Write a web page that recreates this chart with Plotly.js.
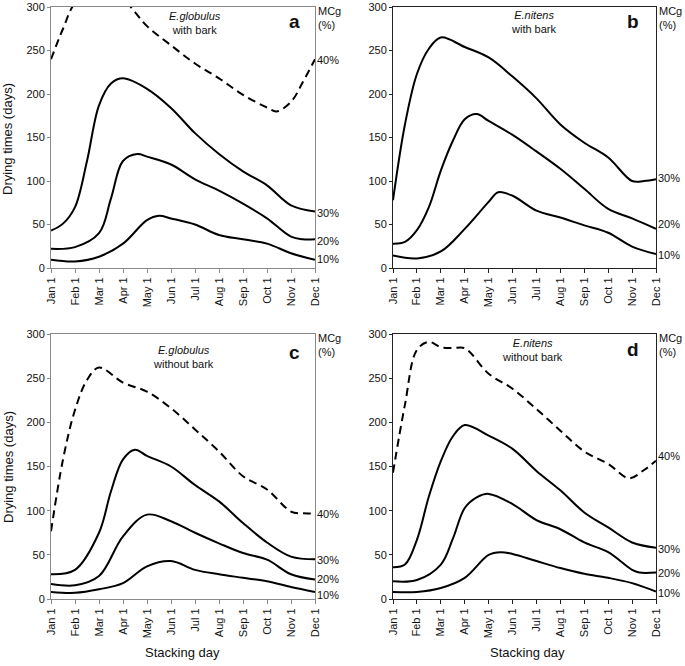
<!DOCTYPE html>
<html>
<head>
<meta charset="utf-8">
<script src="https://cdn.plot.ly/plotly-3.0.1.min.js"></script>
<style>
  html, body { margin: 0; padding: 0; background: #fff; overflow: hidden; }
  #wrap { width: 685px; height: 666px; overflow: hidden; position: relative; }
  #chart { width: 685px; height: 676px; position: absolute; left: 0; top: -10px; }
</style>
</head>
<body>
<div id="wrap"><div id="chart"></div></div>
<script>
// ---- tick labels / categories ----
const MONTH_POS = [0, 1, 2, 3, 4, 5, 6, 7, 8, 9, 10, 11];
const MONTH_LABELS = ['Jan 1', 'Feb 1', 'Mar 1', 'Apr 1', 'May 1', 'Jun 1', 'Jul 1', 'Aug 1', 'Sep 1', 'Oct 1', 'Nov 1', 'Dec 1'];
const Y_TICKS = [0, 50, 100, 150, 200, 250, 300];
const MC_LABELS = ['40%', '30%', '20%', '10%'];

// ---- panel a: E.globulus with bark ----
const a10_x = [0, 1, 2, 3, 4, 4.5, 5, 6, 7, 8, 9, 10, 11];
const a10_y = [9.5, 7.6, 13, 28, 55, 60, 57, 50, 38, 33, 28, 17, 9.5];
const a20_x = [0, 1, 2, 2.5, 3, 3.6, 4, 5, 6, 7, 8, 9, 10, 10.5, 11];
const a20_y = [22, 24, 40, 80, 123, 131, 128, 119, 102, 89, 74, 57, 36, 33, 33];
const a30_x = [0, 0.5, 1, 1.5, 2, 2.5, 3, 4, 5, 6, 7, 8, 9, 10, 11];
const a30_y = [43, 51, 70, 123, 187, 212, 218, 206, 184, 155, 131, 111, 95, 72, 65];
const a40_x = [0, 0.5, 1, 2, 3, 3.5, 4, 5, 6, 7, 8, 9, 9.4, 10, 10.5, 11];
const a40_y = [240, 275, 305, 330, 310, 294, 278, 256, 235, 218, 199, 184.5, 180, 191, 214, 240];
const a_label_y = [239, 63, 31, 10];

// ---- panel b: E.nitens with bark ----
const b10_x = [0, 1, 2, 3, 4, 4.4, 5, 6, 7, 8, 9, 10, 11];
const b10_y = [14.4, 11, 19, 45, 76, 87, 83, 66, 58, 49, 40.5, 24.6, 16];
const b20_x = [0, 0.5, 1, 1.5, 2, 2.5, 3, 3.5, 4, 5, 6, 7, 8, 9, 10, 11];
const b20_y = [28, 30, 43.5, 70, 112, 146, 171, 177, 169, 153, 134, 114, 91, 68, 57, 45];
const b30_x = [0, 0.5, 1, 1.5, 2, 3, 4, 5, 6, 7, 8, 9, 10, 10.5, 11];
const b30_y = [78, 165, 223, 252, 265, 254, 242, 220, 195, 165, 144, 127, 100, 100, 102];
const b_label_y = [null, 104, 50, 15];

// ---- panel c: E.globulus without bark ----
const c10_x = [0, 1, 2, 3, 4, 5, 6, 7, 8, 9, 10, 11];
const c10_y = [8, 7, 11, 18, 37, 43, 33, 28, 24, 20, 13.6, 8];
const c20_x = [0, 1, 2, 3, 4, 5, 6, 7, 8, 9, 10, 11];
const c20_y = [17, 15.5, 26, 71, 95.5, 88, 75, 63, 52, 44.5, 28, 22];
const c30_x = [0, 1, 2, 2.5, 3, 3.5, 4, 5, 6, 7, 8, 9, 10, 11];
const c30_y = [28, 33, 75, 122, 158, 169, 162, 150, 129, 110.5, 86, 64, 48, 45];
const c40_x = [0, 0.5, 1, 1.5, 2, 3, 4, 5, 6, 7, 8, 9, 10, 10.5, 11];
const c40_y = [76.6, 158, 214, 248, 262, 245, 234.7, 216, 192, 167, 139, 124, 99, 97, 97];
const c_label_y = [96.6, 44, 22.6, 4];

// ---- panel d: E.nitens without bark ----
const d10_x = [0, 1, 2, 3, 4, 4.5, 5, 6, 7, 8, 9, 10, 11];
const d10_y = [8, 8, 12.5, 24, 50, 53, 51, 43, 35, 28.5, 24, 18, 8.5];
const d20_x = [0, 1, 2, 2.5, 3, 3.5, 4, 5, 6, 7, 8, 9, 10, 10.3, 11];
const d20_y = [20, 21.5, 39, 68, 103, 115, 119, 107.5, 89.4, 79, 64, 53, 33, 30, 30];
const d30_x = [0, 0.5, 1, 1.5, 2, 2.5, 3, 4, 5, 6, 7, 8, 9, 10, 11];
const d30_y = [36, 39, 67, 116, 156, 184, 197, 185, 170, 145, 123, 98, 81, 64, 58];
const d40_x = [0, 0.5, 1, 1.5, 2, 2.5, 3, 4, 5, 6, 7, 8, 9, 9.87, 10.5, 11];
const d40_y = [143, 220, 282, 291, 285, 284, 284, 255, 238, 215, 190.6, 167, 153, 136.7, 146, 156.5];
const d_label_y = [162, 57, 30, 6.5];

// ---- build ----
const FONT = 'Liberation Sans, Arial, Helvetica, sans-serif';
const W = 685, OFF = 10, H = 666 + OFF;
const panels = [
  { id: '',  xs: [a40_x, a30_x, a20_x, a10_x], ys: [a40_y, a30_y, a20_y, a10_y], lab: a_label_y,
    box: [51, 315, 7, 268], axc: '#8a8a8a', sp: '<i>E.globulus</i><br>with bark', spx: 0.545, spy: 0.94, letter: 'a', lx: 0.924, ly: 0.945 },
  { id: '2', xs: [null, b30_x, b20_x, b10_x], ys: [null, b30_y, b20_y, b10_y], lab: b_label_y,
    box: [393, 656, 7, 268], axc: '#222222', sp: '<i>E.nitens</i><br>with bark', spx: 0.535, spy: 0.943, letter: 'b', lx: 0.913, ly: 0.945 },
  { id: '3', xs: [c40_x, c30_x, c20_x, c10_x], ys: [c40_y, c30_y, c20_y, c10_y], lab: c_label_y,
    box: [51, 315, 334, 599], axc: '#8a8a8a', sp: '<i>E.globulus</i><br>without bark', spx: 0.5, spy: 0.915, letter: 'c', lx: 0.924, ly: 0.932 },
  { id: '4', xs: [d40_x, d30_x, d20_x, d10_x], ys: [d40_y, d30_y, d20_y, d10_y], lab: d_label_y,
    box: [393, 656, 334, 599], axc: '#222222', sp: '<i>E.nitens</i><br>without bark', spx: 0.53, spy: 0.94, letter: 'd', lx: 0.913, ly: 0.94 }
];

const traces = [];
const annotations = [];
const layout = {
  width: W, height: H,
  margin: { l: 0, r: 0, t: 0, b: 0 },
  paper_bgcolor: '#fff', plot_bgcolor: '#fff',
  showlegend: false,
  font: { family: FONT, color: '#111', size: 11 }
};

panels.forEach(p => {
  const xa = 'x' + p.id, ya = 'y' + p.id;
  p.xs.forEach((xv, i) => {
    if (!xv) return;
    traces.push({
      type: 'scatter', mode: 'lines', x: xv, y: p.ys[i],
      xaxis: xa, yaxis: ya, hoverinfo: 'skip',
      line: { color: '#000', width: 2, shape: 'spline', smoothing: 1,
              dash: i === 0 ? '8px,5px' : 'solid' }
    });
  });
  const [x0, x1, yt, yb] = p.box;
  layout['xaxis' + p.id] = {
    domain: [x0 / W, x1 / W], anchor: ya, range: [0, 11],
    tickmode: 'array', tickvals: MONTH_POS, ticktext: MONTH_LABELS, tickangle: -90,
    ticks: 'outside', ticklen: 4, tickcolor: p.axc, tickwidth: 1,
    showline: true, linecolor: p.axc, linewidth: 1, mirror: true,
    showgrid: false, zeroline: false, fixedrange: true,
    tickfont: { family: FONT, size: 11, color: '#111' }
  };
  layout['yaxis' + p.id] = {
    domain: [1 - (yb + OFF) / H, 1 - (yt + OFF) / H], anchor: xa, range: [0, 300],
    tickmode: 'array', tickvals: Y_TICKS,
    ticks: 'outside', ticklen: 3, tickcolor: p.axc, tickwidth: 1,
    showline: true, linecolor: p.axc, linewidth: 1, mirror: true,
    showgrid: false, zeroline: false, fixedrange: true,
    tickfont: { family: FONT, size: 11, color: '#111' }
  };
  annotations.push({ xref: xa + ' domain', yref: ya + ' domain', x: p.spx, y: p.spy,
    text: p.sp, showarrow: false, xanchor: 'center', yanchor: 'middle', align: 'center',
    font: { family: FONT, size: 11, color: '#111' } });
  annotations.push({ xref: xa + ' domain', yref: ya + ' domain', x: p.lx, y: p.ly,
    text: '<b>' + p.letter + '</b>', showarrow: false, xanchor: 'center', yanchor: 'middle',
    font: { family: FONT, size: 19, color: '#111' } });
  annotations.push({ xref: xa + ' domain', yref: ya + ' domain', x: 1, y: 1,
    text: 'MCg<br>(%)', showarrow: false, xanchor: 'left', yanchor: 'top', align: 'left',
    xshift: 1, yshift: 4, font: { family: FONT, size: 11, color: '#111' } });
  p.lab.forEach((ly, i) => {
    if (ly === null) return;
    annotations.push({ xref: xa, yref: ya, x: 11, y: ly, text: MC_LABELS[i],
      showarrow: false, xanchor: 'left', yanchor: 'middle', xshift: 0,
      font: { family: FONT, size: 11, color: '#111' } });
  });
});

[139, 467].forEach(cy => {
  annotations.push({ xref: 'paper', yref: 'paper', x: 8 / W, y: 1 - (cy + OFF) / H,
    text: 'Drying times (days)', textangle: -90, showarrow: false,
    xanchor: 'center', yanchor: 'middle', font: { family: FONT, size: 13, color: '#111' } });
});
[182, 527].forEach(cx => {
  annotations.push({ xref: 'paper', yref: 'paper', x: cx / W, y: 1 - (652 + OFF) / H,
    text: 'Stacking day', showarrow: false,
    xanchor: 'center', yanchor: 'middle', font: { family: FONT, size: 13, color: '#111' } });
});

layout.annotations = annotations;
Plotly.newPlot('chart', traces, layout, { staticPlot: true, displayModeBar: false });
</script>
</body>
</html>
